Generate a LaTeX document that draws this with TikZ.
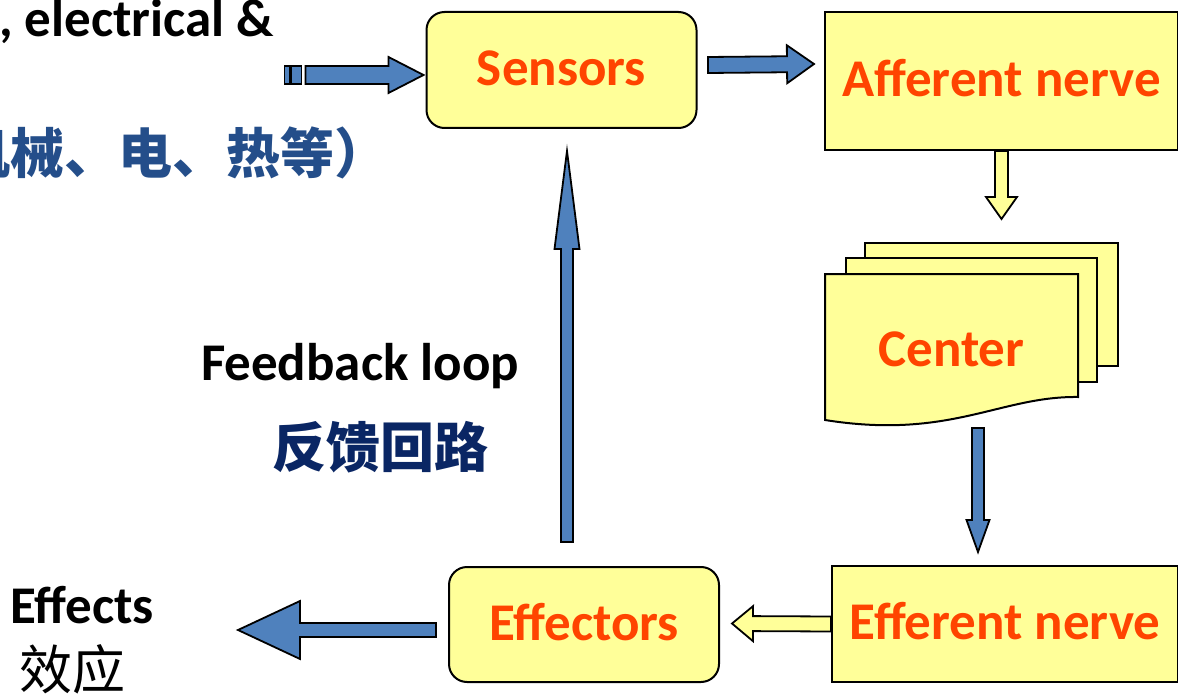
\documentclass[tikz,border=0pt]{standalone}
\usepackage{fontspec}
\setmainfont{Carlito}
\newfontfamily\cjk{Noto Sans CJK SC}
\usetikzlibrary{calc}

\definecolor{boxfill}{HTML}{FFFF99}
\definecolor{labelred}{RGB}{255,68,0}
\definecolor{arrowblue}{HTML}{4F81BD}
\definecolor{cjkblue}{RGB}{36,78,138}
\definecolor{cjknavy}{RGB}{10,38,100}

% block arrow: #1 style, #2 tail, #3 tip, #4 half body width, #5 half head width, #6 head length
\newcommand{\blkarrow}[6]{%
  \coordinate (ba-h) at ($(#3)!#6!(#2)$);
  \draw[#1] ($(#2)!#4!90:(#3)$) -- ($(ba-h)!#4!90:(#3)$) -- ($(ba-h)!#5!90:(#3)$)
    -- (#3) -- ($(ba-h)!#5!-90:(#3)$) -- ($(ba-h)!#4!-90:(#3)$)
    -- ($(#2)!#4!-90:(#3)$) -- cycle;}

\tikzset{
  bigfont/.style={font=\bfseries\fontsize{53}{60}\selectfont},
  box/.style={draw=black, line width=2pt, fill=boxfill, text=labelred, bigfont,
    text height=31pt, text depth=0pt, inner sep=0pt},
  roundbox/.style={box, rounded corners=18pt},
  sheet/.style={draw=black, line width=2pt, fill=boxfill, line join=miter},
  bluearrow/.style={draw=black, line width=1.8pt, fill=arrowblue, line join=miter},
  yellowarrow/.style={draw=black, line width=1.8pt, fill=boxfill, line join=miter},
}

\begin{document}
\begin{tikzpicture}[x=1pt, y=-1pt]
\useasboundingbox (0,0) rectangle (1178,695);

% process boxes
\node[roundbox, minimum width=270pt, minimum height=116pt] (sensors) at (561.5,70) {Sensors};
\node[box, minimum width=353pt, minimum height=138pt] (afferent) at (1001.5,81) {Afferent nerve};
\node[box, minimum width=346pt, minimum height=116pt] (efferent) at (1005,624) {Efferent nerve};
\node[roundbox, minimum width=270pt, minimum height=115pt] (effectors) at (584,624.5) {Effectors};

% stacked documents for the centre
\draw[sheet] (865,243) rectangle (1118,366);
\draw[sheet] (846,258) rectangle (1097,382);
\draw[sheet] (825,274) -- (1078,274) -- (1078,397)
  .. controls (1000,396) and (950,440) .. (825,420) -- cycle;
\node[box, draw=none, fill=none, minimum width=253pt, minimum height=153pt] (center) at (951.5,350.5) {Center};

% free text
\node[anchor=base west, inner sep=0pt, bigfont] (stimtext) at (-1,37) {, electrical \&};
\node[anchor=base west, inner sep=0pt, text=cjkblue, font=\cjk\bfseries\fontsize{54}{60}\selectfont] (stimcn) at (-44,174) {机械、电、热等）};
\node[anchor=base, inner sep=0pt, bigfont] (fbtext) at (360,380) {Feedback loop};
\node[anchor=base, inner sep=0pt, text=cjknavy, font=\cjk\bfseries\fontsize{54}{60}\selectfont] (fbcn) at (380,467) {反馈回路};
\node[anchor=base west, inner sep=0pt, bigfont] (effects) at (10,623) {Effects};
\node[anchor=base west, inner sep=0pt, font=\cjk\fontsize{53}{60}\selectfont] (effectscn) at (19,689) {效应};

% stimulus input with striped tail
\coordinate (in-tip) at ([shift={(-2,5)}]sensors.west);
\coordinate (in-tail) at ([xshift=-118]in-tip);
\draw[bluearrow, line width=1.4pt] ([shift={(-4,-9)}]in-tail) rectangle ([shift={(-14,9)}]in-tail);
\draw[bluearrow, line width=1.4pt] ([shift={(-15.5,-9)}]in-tail) rectangle ([shift={(-21,9)}]in-tail);
\blkarrow{bluearrow}{in-tail}{in-tip}{9pt}{18pt}{35pt}

% sensors -> afferent nerve
\coordinate (sa-tail) at ([shift={(10.5,-5)}]sensors.east);
\coordinate (sa-tip) at ([shift={(-10,-17)}]afferent.west);
\blkarrow{bluearrow}{sa-tail}{sa-tip}{8pt}{19pt}{27pt}

% afferent nerve -> centre
\coordinate (ac-tail) at (afferent.south);
\coordinate (ac-tip) at ([shift={(50,-54)}]center.north);
\blkarrow{yellowarrow}{ac-tail}{ac-tip}{6.5pt}{15.5pt}{22pt}

% centre -> efferent nerve
\coordinate (ce-tail) at ([xshift=26.5]center.south);
\coordinate (ce-tip) at ([shift={(-27,-13)}]efferent.north);
\blkarrow{bluearrow}{ce-tail}{ce-tip}{6pt}{11.5pt}{32pt}

% efferent nerve -> effectors
\coordinate (ee-tail) at (efferent.west);
\coordinate (ee-tip) at ([shift={(12,-1)}]effectors.east);
\blkarrow{yellowarrow}{ee-tail}{ee-tip}{7.5pt}{17.5pt}{21pt}

% effectors -> effects
\coordinate (ef-tail) at ([shift={(-12,5.5)}]effectors.west);
\coordinate (ef-tip) at ([shift={(-210,5.5)}]effectors.west);
\blkarrow{bluearrow}{ef-tail}{ef-tip}{7pt}{29pt}{62pt}

% feedback loop: effectors -> sensors
\coordinate (fb-tail) at ([shift={(-17,-24)}]effectors.north);
\coordinate (fb-tip) at ([shift={(5.5,22)}]sensors.south);
\blkarrow{bluearrow}{fb-tail}{fb-tip}{6pt}{12.5pt}{98pt}
\end{tikzpicture}
\end{document}
